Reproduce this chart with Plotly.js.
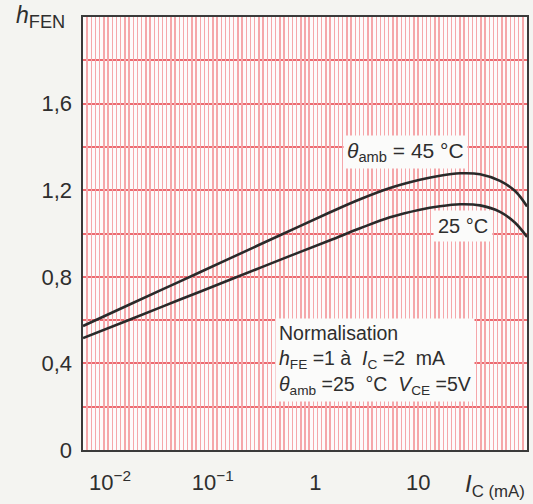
<!DOCTYPE html>
<html>
<head>
<meta charset="utf-8">
<script src="https://cdn.plot.ly/plotly-3.0.1.min.js"></script>
<style>
  html, body { margin: 0; padding: 0; background: #f4f4f1; }
  #chart { width: 533px; height: 504px; }
</style>
</head>
<body>
<div id="chart"></div>
<script>
// Collector current Ic (mA)
const icValues = [0.00546, 0.0157, 0.0481, 0.147, 0.452, 1.39, 2.72, 5.32, 10.4, 16.3, 25.6, 40.1, 62.7, 87.9, 115];
// Normalised hFE at theta_amb = 45 °C
const hfe45 = [0.573, 0.673, 0.779, 0.885, 0.992, 1.098, 1.158, 1.210, 1.248, 1.267, 1.278, 1.274, 1.243, 1.196, 1.125];
// Normalised hFE at theta_amb = 25 °C
const hfe25 = [0.517, 0.603, 0.695, 0.786, 0.878, 0.969, 1.024, 1.075, 1.110, 1.126, 1.135, 1.130, 1.100, 1.050, 0.984];

const xTickVals = [0.01, 0.1, 1, 10];
const xTickText = ['10<sup>−2</sup>', '10<sup>−1</sup>', '1', '10'];
const yTickVals = [0, 0.4, 0.8, 1.2, 1.6];
const yTickText = ['0', '0,4', '0,8', '1,2', '1,6'];

const FONT = 'Liberation Sans, Arial, sans-serif';
const curveStyle = {color: '#2a2a2a', width: 2.6, shape: 'spline', smoothing: 1};

const traces = [
  {x: icValues, y: hfe45, mode: 'lines', line: curveStyle, hoverinfo: 'skip', showlegend: false},
  {x: icValues, y: hfe25, mode: 'lines', line: curveStyle, hoverinfo: 'skip', showlegend: false},
  // carrier trace for the graph-paper vertical rulings axis
  {x: [0], y: [null], xaxis: 'x2', mode: 'markers', marker: {opacity: 0}, hoverinfo: 'skip', showlegend: false}
];

const layout = {
  width: 533, height: 504,
  margin: {l: 83, r: 6, t: 17, b: 54},
  paper_bgcolor: '#f4f4f1',
  plot_bgcolor: '#fdfbfb',
  font: {family: FONT, color: '#2e2e2e', size: 21},
  showlegend: false,
  xaxis: {
    type: 'log',
    range: [-2.263, 2.06],
    tickvals: xTickVals, ticktext: xTickText,
    ticks: '', showgrid: false, zeroline: false,
    showline: true, linecolor: '#3a3a3a', linewidth: 1.6, mirror: true,
    tickfont: {size: 22, family: FONT, color: '#2e2e2e'},
    ticklabelstandoff: 12
  },
  xaxis2: {
    overlaying: 'x', range: [0, 106], dtick: 1,
    showgrid: true, gridcolor: '#f5a7aa', gridwidth: 1.4,
    showticklabels: false, ticks: '', zeroline: false, showline: false
  },
  yaxis: {
    range: [0, 2.0],
    tickvals: yTickVals, ticktext: yTickText,
    ticks: '', zeroline: false,
    showgrid: true, gridcolor: '#ec6a70', gridwidth: 2,
    minor: {dtick: 0.2, showgrid: true, gridcolor: '#ec6a70', gridwidth: 2},
    showline: true, linecolor: '#3a3a3a', linewidth: 1.6, mirror: true,
    tickfont: {size: 22, family: FONT, color: '#2e2e2e'},
    ticklabelstandoff: 5
  },
  annotations: [
    {xref: 'paper', yref: 'paper', x: 0.727, y: 0.688, xanchor: 'center', yanchor: 'middle',
     text: '<i>θ</i><sub>amb</sub> = 45 °C', showarrow: false,
     font: {size: 21, family: FONT, color: '#2e2e2e'}, bgcolor: '#fbfbfa', borderpad: 3},
    {xref: 'paper', yref: 'paper', x: 0.856, y: 0.517, xanchor: 'center', yanchor: 'middle',
     text: '25 °C', showarrow: false,
     font: {size: 20, family: FONT, color: '#2e2e2e'}, bgcolor: '#fbfbfa', borderpad: 4},
    {xref: 'paper', yref: 'paper', x: 0.432, y: 0.305, xanchor: 'left', yanchor: 'top', align: 'left',
     text: 'Normalisation<br><i>h</i><sub>FE</sub>&nbsp;=1&nbsp;à&nbsp;&nbsp;<i>I</i><sub>C</sub>&nbsp;=2&nbsp;&nbsp;mA<br><i>θ</i><sub>amb</sub>&nbsp;=25&nbsp;&nbsp;°C&nbsp;&nbsp;<i>V</i><sub>CE</sub>&nbsp;=5V',
     showarrow: false, font: {size: 19.5, family: FONT, color: '#2e2e2e'}, bgcolor: '#fbfbfa', borderpad: 3},
    {xref: 'paper', yref: 'paper', x: -0.155, y: 1.0, xanchor: 'left', yanchor: 'middle',
     text: '<span style="font-size:23px"><i>h</i></span><sub>FEN</sub>', showarrow: false,
     font: {size: 26, family: FONT, color: '#2e2e2e'}},
    {xref: 'paper', yref: 'paper', x: 0.855, y: -0.082, xanchor: 'left', yanchor: 'middle',
     text: '<i>I</i><sub>C (mA)</sub>', showarrow: false,
     font: {size: 24, family: FONT, color: '#2e2e2e'}}
  ]
};

Plotly.newPlot('chart', traces, layout, {staticPlot: true, displayModeBar: false});
</script>
</body>
</html>
